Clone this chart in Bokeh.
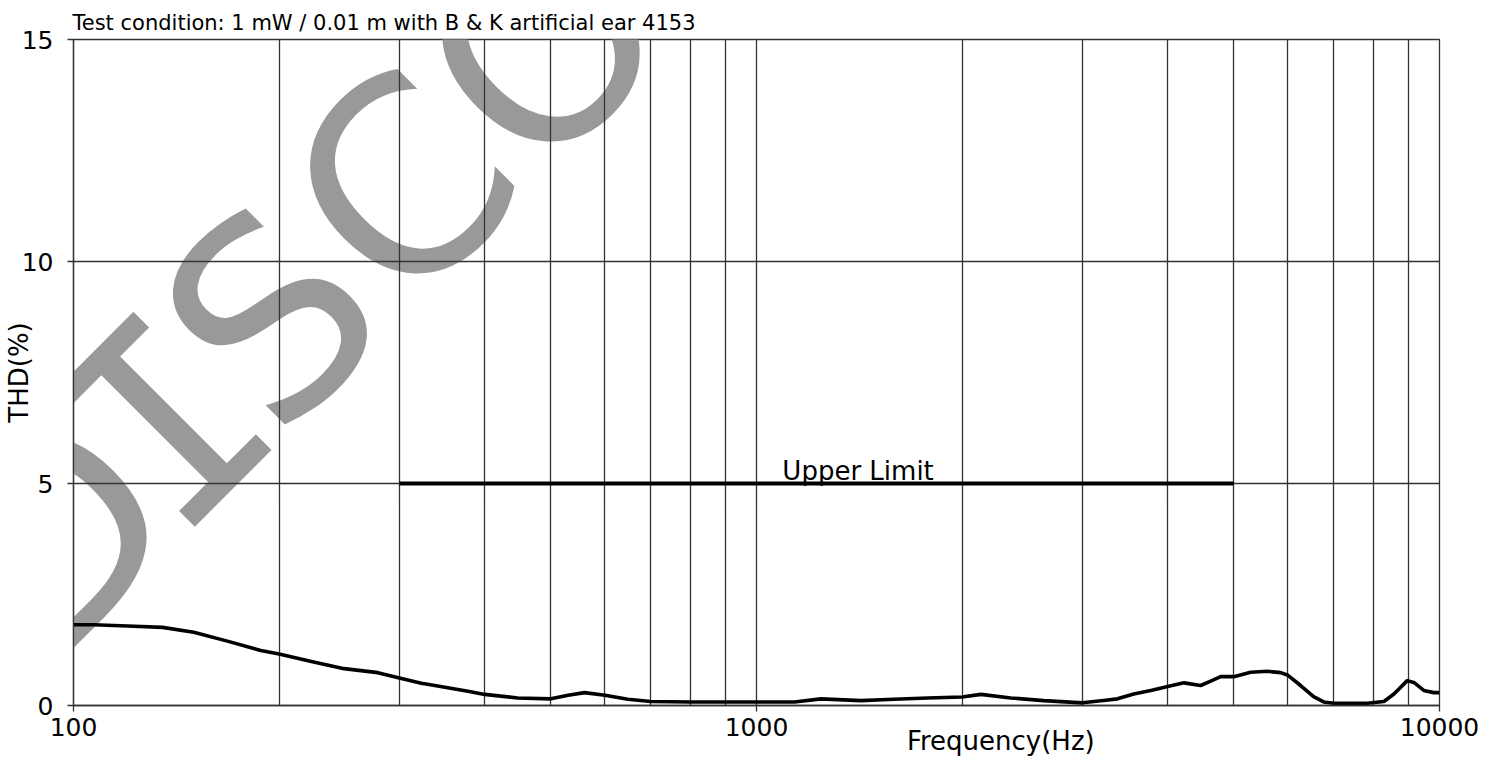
import math
from bokeh.plotting import figure
from bokeh.models import (Range1d, FixedTicker, NumeralTickFormatter, Label,
                          Title, LogAxis, CustomJSTickFormatter)
from bokeh.embed import file_html
from bokeh.resources import INLINE

# ---- data ----
freq = [100, 107, 120, 135, 150, 168, 188, 200, 223, 249, 279, 300, 323, 338,
        378, 400, 447, 500, 530, 560, 600, 648, 700, 800, 900, 1000, 1136, 1243,
        1422, 1589, 1780, 2000, 2131, 2357, 2634, 3000, 3246, 3377, 3567, 3778,
        4000, 4226, 4470, 4624, 4782, 5000, 5291, 5596, 5853, 6000, 6261, 6542,
        6766, 7000, 7842, 8290, 8576, 8970, 9170, 9484, 9810, 10000]
thd = [1.82, 1.82, 1.79, 1.76, 1.65, 1.45, 1.24, 1.16, 0.99, 0.83, 0.74, 0.62,
       0.50, 0.45, 0.32, 0.25, 0.17, 0.15, 0.23, 0.29, 0.23, 0.14, 0.09, 0.08,
       0.08, 0.08, 0.08, 0.15, 0.11, 0.14, 0.17, 0.19, 0.25, 0.17, 0.11, 0.06,
       0.12, 0.15, 0.26, 0.34, 0.43, 0.51, 0.45, 0.55, 0.65, 0.65, 0.75, 0.77,
       0.74, 0.68, 0.45, 0.20, 0.08, 0.05, 0.05, 0.09, 0.26, 0.56, 0.52, 0.34,
       0.29, 0.29]
limit_freq = [300, 5000]
limit_thd = [5, 5]
x_ticks = [100, 1000, 10000]
y_ticks = [0, 5, 10, 15]
grid_freqs = [m * 10 ** e for e in (2, 3) for m in range(1, 10)] + [10000]

title_text = "Test condition: 1 mW / 0.01 m with B & K artificial ear 4153"
x_label = "Frequency(Hz)"
y_label = "THD(%)"
limit_label = "Upper Limit"
watermark = ["D", "I", "S", "C", "O"]

FONT = "DejaVu Sans"
LINE = "#333333"

p = figure(width=1487, height=758, x_axis_type="log",
           x_range=Range1d(100, 10000), y_range=Range1d(0, 15),
           output_backend="svg", toolbar_location=None,
           min_border_left=72, min_border_right=48,
           min_border_top=39, min_border_bottom=53)
p.title = Title(text=title_text, align="left", offset=-1, standoff=9,
                text_font=FONT, text_font_size="21px",
                text_font_style="normal", text_color="black")
p.background_fill_color = "white"
p.border_fill_color = "white"
p.outline_line_color = LINE
p.outline_line_width = 1.3

# watermark (under the grid)
wm_size = 268
wm_adv = {"D": 0.771, "I": 0.421, "S": 0.685, "C": 0.698, "O": 0.787}
wm_font = {"I": "DejaVu Sans Mono"}
anchor_I = (166 - 72, 705 - 422)  # offsets from frame bottom-left, up positive
ang = math.radians(45)
pos = 0.0
centers = []
for i, ch in enumerate(watermark):
    if i == 0:
        centers.append(0.0)
    else:
        pos += (wm_adv[watermark[i - 1]] + wm_adv[ch]) / 2 * wm_size
        centers.append(pos)
shift = centers[1]
for ch, c in zip(watermark, centers):
    d = c - shift
    p.add_layout(Label(x=100, y=0, x_offset=anchor_I[0] + d * math.cos(ang),
                       y_offset=anchor_I[1] + d * math.sin(ang),
                       text=ch, angle=ang, text_align="center",
                       text_baseline="alphabetic",
                       text_font=wm_font.get(ch, FONT),
                       text_font_size=f"{wm_size}px", text_color="#999999",
                       level="image"))

# grids
p.xgrid.ticker = FixedTicker(ticks=grid_freqs)
p.ygrid.ticker = FixedTicker(ticks=y_ticks)
for g in (p.xgrid, p.ygrid):
    g.grid_line_color = LINE
    g.grid_line_width = 1.3
    g.grid_line_alpha = 1.0

# axes
p.xaxis.ticker = FixedTicker(ticks=x_ticks)
p.xaxis.formatter = NumeralTickFormatter(format="0")
p.yaxis.ticker = FixedTicker(ticks=y_ticks)
for ax in (p.xaxis, p.yaxis):
    ax.axis_line_color = LINE
    ax.axis_line_width = 1.3
    ax.major_tick_line_color = LINE
    ax.major_tick_line_width = 1.3
    ax.major_tick_out = 6
    ax.major_tick_in = 0
    ax.minor_tick_line_color = None
    ax.major_label_text_font = FONT
    ax.major_label_text_font_size = "25px"
    ax.major_label_text_color = "black"
p.xaxis.major_label_standoff = 6
p.yaxis.major_label_standoff = 14

p.yaxis.axis_label = y_label
p.yaxis.axis_label_standoff = -15
p.yaxis.axis_label_text_font = FONT
p.yaxis.axis_label_text_font_size = "26px"
p.yaxis.axis_label_text_font_style = "normal"
p.yaxis.axis_label_text_color = "black"

# x-axis title drawn as the single label of a second, bare axis below
x_label_pos = 10 ** (2 + (1000 - 72) / 683.5)
xlab_axis = LogAxis(ticker=FixedTicker(ticks=[x_label_pos]),
                    formatter=CustomJSTickFormatter(code=f"return '{x_label}';"),
                    axis_line_color=None, major_tick_line_color=None,
                    minor_tick_line_color=None, major_tick_out=0,
                    major_tick_in=0, major_label_standoff=-13,
                    major_label_text_font=FONT,
                    major_label_text_font_size="26px",
                    major_label_text_color="black")
p.add_layout(xlab_axis, "below")

# data
p.line(limit_freq, limit_thd, line_color="black", line_width=3.8)
p.line(freq, thd, line_color="black", line_width=3.6, line_join="round")

p.add_layout(Label(x=limit_freq[0], y=limit_thd[0], x_offset=383, y_offset=13,
                   text=limit_label, text_font=FONT, text_font_size="26px",
                   text_color="black", text_align="left",
                   text_baseline="alphabetic"))

open("out.html", "w").write(file_html(p, INLINE))
